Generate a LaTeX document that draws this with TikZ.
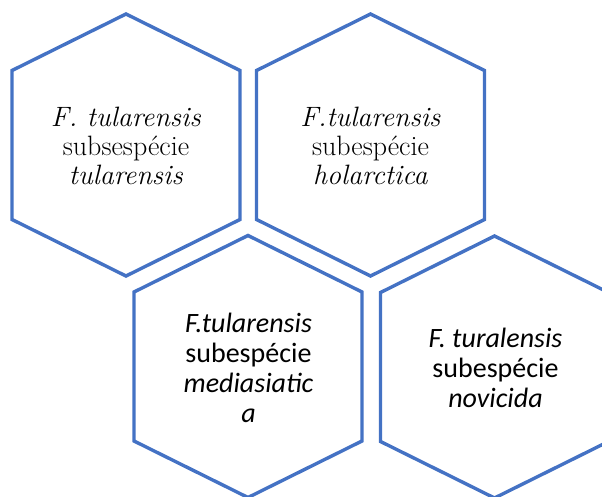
\documentclass[tikz,border=0pt]{standalone}
\usepackage{fontspec}
\newfontfamily\calibri{Carlito}
\definecolor{hexblue}{HTML}{4472C4}
\begin{document}
\begin{tikzpicture}[x=1pt,y=-1pt,
  hexline/.style={draw=hexblue,line width=3.4pt,line join=miter},
  sertext/.style={align=center,inner sep=0pt,font=\rmfamily\fontsize{28}{29}\selectfont},
  caltext/.style={align=center,inner sep=0pt,font=\calibri\fontsize{28}{30}\selectfont}]
\useasboundingbox (0,0) rectangle (602,497);
\clip (0,0) rectangle (602,497);
\newcommand{\hexat}[2]{%
  \draw[hexline] (#1,#2-131) -- (#1+114,#2-74.5) -- (#1+114,#2+74.5) -- (#1,#2+131) -- (#1-114,#2+74.5) -- (#1-114,#2-74.5) -- cycle;}
\hexat{126}{145}
\hexat{370.5}{145}
\hexat{248}{366.5}
\hexat{494.5}{367}
\node[sertext] (t1) at (126,146) {\textit{F. tularensis}\\subsespécie\\\textit{tularensis}};
\node[sertext] (t2) at (370.5,146) {\textit{F.tularensis}\\subespécie\\\textit{holarctica}};
\node[caltext] (t3) at (248.5,368) {\textit{F.tularensis}\\subespécie\\\textit{mediasiatic}\\\textit{a}};
\node[caltext] (t4) at (495.5,368) {\textit{F. turalensis}\\subespécie\\\textit{novicida}};
\end{tikzpicture}
\end{document}
